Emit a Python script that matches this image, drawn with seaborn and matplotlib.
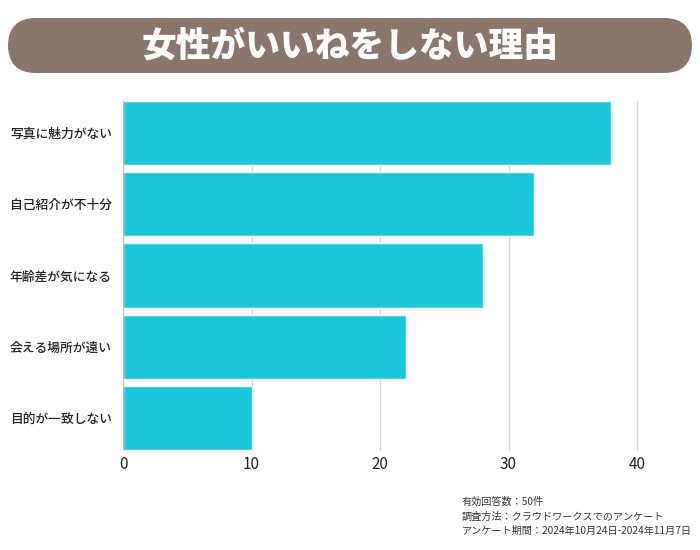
import matplotlib
matplotlib.use("Agg")
import matplotlib.pyplot as plt
import seaborn as sns
import pandas as pd
from matplotlib.patches import FancyBboxPatch

reasons = ["写真に魅力がない", "自己紹介が不十分", "年齢差が気になる", "会える場所が遠い", "目的が一致しない"]
counts = [38, 32, 28, 22, 10]
x_ticks = [0, 10, 20, 30, 40]
title = "女性がいいねをしない理由"
notes = ["有効回答数：50件", "調査方法：クラウドワークスでのアンケート", "アンケート期間：2024年10月24日-2024年11月7日"]

df = pd.DataFrame({"reason": reasons, "count": counts})

sns.set_theme(style="white")
plt.rcParams["font.family"] = ["Noto Sans CJK JP", "DejaVu Sans"]

fig = plt.figure(figsize=(7, 5.5), dpi=100)
ax = fig.add_axes([123 / 700, 1 - 450 / 550, (637 - 123) / 700, 349 / 550])

sns.barplot(data=df, x="count", y="reason", color="#1BC8DB", saturation=1,
            width=0.9, ax=ax, zorder=3)

ax.set_xlim(0, 40)
ax.set_ylim(4.45, -0.45)
ax.set_xticks(x_ticks)
for t in x_ticks[1:]:
    ax.axvline(t, color="#d6d6d6", linewidth=1, zorder=0, clip_on=False)
ax.axvline(0, color="#aaaaaa", linewidth=1.2, zorder=4)
for s in ax.spines.values():
    s.set_visible(False)
ax.set_xlabel("")
ax.set_ylabel("")
ax.tick_params(axis="x", labelsize=11, length=0, pad=4, colors="#222222")
ax.tick_params(axis="y", labelsize=9.2, length=0, pad=8, colors="#222222")
for lbl in ax.get_yticklabels():
    lbl.set_fontweight("medium")

# title banner
banner = FancyBboxPatch((8 / 700, 1 - 73 / 550), 684 / 700, 55 / 550,
                        boxstyle="round,pad=0,rounding_size=0.04",
                        transform=fig.transFigure, facecolor="#8B766B",
                        edgecolor="none", mutation_aspect=700 / 550)
fig.patches.append(banner)
fig.text(0.5, 1 - 46 / 550, title, ha="center", va="center", color="white",
         fontsize=25, fontweight="black")

for i, n in enumerate(notes):
    fig.text(462 / 700, 1 - (502 + i * 14.5) / 550, n, ha="left", va="center",
             fontsize=7.3, color="#333333")

fig.savefig("out.png", dpi=100)
